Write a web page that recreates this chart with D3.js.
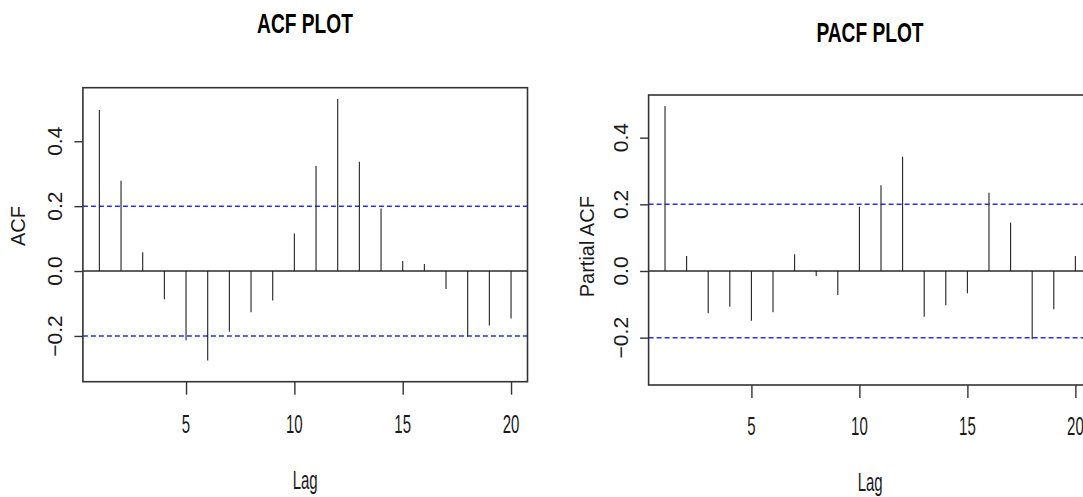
<!DOCTYPE html>
<html>
<head>
<meta charset="utf-8">
<script src="https://cdn.jsdelivr.net/npm/d3@7"></script>
<style>
  html, body { margin: 0; padding: 0; background: #fff; }
  svg { display: block; }
  text { font-family: "Liberation Sans", Arial, sans-serif; fill: #1a1a1a; }
</style>
</head>
<body>
<svg id="chart" width="1083" height="497"></svg>
<script>
// Lags shown on both correlograms
const lags = d3.range(1, 21);

// Sample autocorrelation by lag
const acfValues = [0.496, 0.278, 0.058, -0.087, -0.213, -0.276, -0.187, -0.127, -0.091, 0.116,
                   0.324, 0.530, 0.337, 0.193, 0.031, 0.022, -0.055, -0.202, -0.168, -0.146];

// Sample partial autocorrelation by lag
const pacfValues = [0.495, 0.045, -0.127, -0.107, -0.149, -0.124, 0.050, -0.015, -0.072, 0.193,
                    0.257, 0.343, -0.137, -0.103, -0.067, 0.235, 0.145, -0.205, -0.115, 0.045];

// Significance bounds
const ciBound = [0.2];

// Axis ticks
const xTicks = [5, 10, 15, 20];
const yTicks = [-0.2, 0.0, 0.2, 0.4];

const svg = d3.select("#chart");

function drawCorrelogram(cfg) {
  const g = svg.append("g");
  const x = d3.scaleLinear().domain([0.24, 20.76]).range([cfg.left, cfg.right]);
  const y = d3.scaleLinear().domain(cfg.yDomain).range([cfg.bottom, cfg.top]);

  // Title
  g.append("text")
    .attr("transform", `translate(${cfg.titleX},${cfg.titleY}) scale(0.71,1)`)
    .attr("text-anchor", "middle")
    .style("font-size", "27px")
    .style("font-weight", "bold")
    .style("fill", "#000")
    .text(cfg.title);

  // Confidence bounds
  const bounds = [ciBound[0], -ciBound[0]];
  g.selectAll("line.ci").data(bounds).join("line")
    .attr("class", "ci")
    .attr("x1", cfg.left).attr("x2", cfg.right)
    .attr("y1", d => y(d)).attr("y2", d => y(d))
    .attr("stroke", "#2a2aff")
    .attr("stroke-width", 1.5)
    .attr("stroke-dasharray", "5,3");

  // Zero line
  g.append("line")
    .attr("x1", cfg.left).attr("x2", cfg.right)
    .attr("y1", y(0)).attr("y2", y(0))
    .attr("stroke", "#2b2b2b").attr("stroke-width", 1.6);

  // Spikes
  g.selectAll("line.spike").data(lags).join("line")
    .attr("class", "spike")
    .attr("x1", d => x(d)).attr("x2", d => x(d))
    .attr("y1", y(0)).attr("y2", (d, i) => y(cfg.values[i]))
    .attr("stroke", "#222").attr("stroke-width", 1.1);

  // Frame
  g.append("rect")
    .attr("x", cfg.left).attr("y", cfg.top)
    .attr("width", cfg.right - cfg.left).attr("height", cfg.bottom - cfg.top)
    .attr("fill", "none").attr("stroke", "#333").attr("stroke-width", 1.6);

  // Bottom axis
  const xAxis = d3.axisBottom(x).tickValues(xTicks).tickSize(13).tickFormat(() => "");
  const ax = g.append("g").attr("transform", `translate(0,${cfg.bottom})`).call(xAxis);
  ax.select(".domain").remove();
  ax.selectAll(".tick line").attr("stroke", "#333").attr("stroke-width", 1.4);
  g.selectAll("text.xt").data(xTicks).join("text")
    .attr("class", "xt")
    .attr("transform", d => `translate(${x(d)},${cfg.xLabelY}) scale(0.6,1)`)
    .attr("text-anchor", "middle")
    .style("font-size", "25px")
    .text(d => d);

  // Left axis
  const yAxis = d3.axisLeft(y).tickValues(yTicks).tickSize(8.5).tickFormat(() => "");
  const ay = g.append("g").attr("transform", `translate(${cfg.left},0)`).call(yAxis);
  ay.select(".domain").remove();
  ay.selectAll(".tick line").attr("stroke", "#333").attr("stroke-width", 1.4);
  g.selectAll("text.yt").data(yTicks).join("text")
    .attr("class", "yt")
    .attr("transform", d => `translate(${cfg.yLabelX},${y(d)}) rotate(-90)`)
    .attr("text-anchor", "middle")
    .style("font-size", "21px")
    .text(d => d3.format(".1f")(d));

  // Axis titles
  g.append("text")
    .attr("transform", `translate(${(cfg.left + cfg.right) / 2},${cfg.lagY}) scale(0.6,1)`)
    .attr("text-anchor", "middle")
    .style("font-size", "25px")
    .text("Lag");
  g.append("text")
    .attr("transform", `translate(${cfg.yTitleX},${cfg.yTitleY}) rotate(-90)`)
    .attr("text-anchor", "middle")
    .style("font-size", "20px")
    .text(cfg.yTitle);
}

drawCorrelogram({
  title: "ACF PLOT", titleX: 305, titleY: 33,
  values: acfValues,
  left: 82.9, right: 527.5, top: 87.7, bottom: 381.7,
  yDomain: [-0.341, 0.565],
  xLabelY: 433, yLabelX: 62, lagY: 489,
  yTitle: "ACF", yTitleX: 25, yTitleY: 226
});

drawCorrelogram({
  title: "PACF PLOT", titleX: 870, titleY: 41.5,
  values: pacfValues,
  left: 648.6, right: 1091.8, top: 95, bottom: 385,
  yDomain: [-0.342, 0.528],
  xLabelY: 435, yLabelX: 628, lagY: 491,
  yTitle: "Partial ACF", yTitleX: 594, yTitleY: 246.7
});
</script>
</body>
</html>
